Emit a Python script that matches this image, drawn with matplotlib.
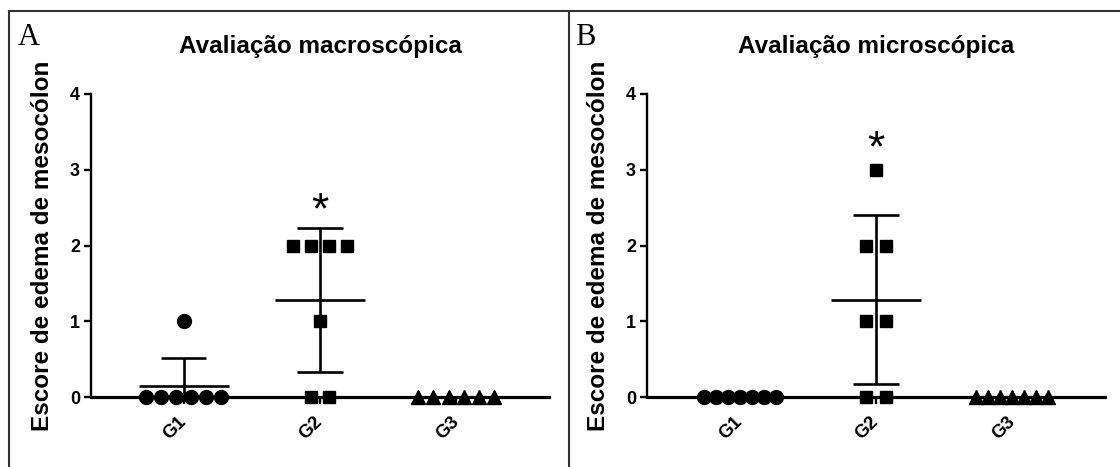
import numpy as np
import matplotlib
matplotlib.use("Agg")
import matplotlib.pyplot as plt
from matplotlib.lines import Line2D
from matplotlib.transforms import ScaledTranslation

# Scores per animal, by group
groups = ["G1", "G2", "G3"]
macro_g1 = [1, 0, 0, 0, 0, 0, 0]
macro_g2 = [2, 2, 2, 2, 1, 0, 0]
macro_g3 = [0, 0, 0, 0, 0, 0]
micro_g1 = [0, 0, 0, 0, 0, 0, 0]
micro_g2 = [3, 2, 2, 1, 1, 0, 0]
micro_g3 = [0, 0, 0, 0, 0, 0, 0]

panel_titles = ["Avaliação macroscópica", "Avaliação microscópica"]
panel_letters = ["A", "B"]
y_label = "Escore de edema de mesocólon"
y_ticks = [0, 1, 2, 3, 4]
signif_group = "G2"

SANS = ["Liberation Sans", "DejaVu Sans"]
SERIF = ["Liberation Serif", "DejaVu Serif"]

W, H = 1120, 467
fig = plt.figure(figsize=(W / 100, H / 100), dpi=100)
fig.patch.set_facecolor("white")


def spread(values, step):
    """Horizontal offsets so tied values sit side by side, centred."""
    vals = np.asarray(values, float)
    offs = np.zeros_like(vals)
    for v in np.unique(vals):
        idx = np.where(vals == v)[0]
        offs[idx] = (np.arange(len(idx)) - (len(idx) - 1) / 2) * step
    return offs


def draw_panel(ax, data, steps, title, star_y):
    markers = [("o", 10), ("s", 9), ("^", 10)]
    for i, (vals, step, (mk, ms)) in enumerate(zip(data, steps, markers)):
        xc = i + 1
        vals = np.asarray(vals, float)
        mean = vals.mean()
        sd = vals.std(ddof=1)
        # mean line, SD whisker and caps
        ax.hlines(mean, xc - 0.33, xc + 0.33, color="black", lw=1.9, zorder=2)
        ax.vlines(xc, mean - sd, mean + sd, color="black", lw=1.9, zorder=2)
        ax.hlines([mean - sd, mean + sd], xc - 0.167, xc + 0.167,
                  color="black", lw=1.9, zorder=2)
        ax.plot(xc + spread(vals, step), vals, linestyle="none", marker=mk,
                ms=ms, color="black", mec="black", clip_on=False, zorder=4)

    ax.set_xlim(0.32, 3.68)
    ax.set_ylim(0, 4)
    ax.set_yticks(y_ticks)
    ax.set_xticks([1, 2, 3])
    ax.set_xticklabels(groups)
    for s in ("top", "right"):
        ax.spines[s].set_visible(False)
    ax.spines["left"].set_linewidth(1.7)
    ax.spines["bottom"].set_linewidth(2.3)
    ax.spines["bottom"].set_zorder(3)
    ax.tick_params(axis="y", length=5, width=1.7, pad=3, labelsize=13)
    ax.tick_params(axis="x", length=5, width=1.7, pad=7, labelsize=13.5)
    for lab in ax.get_yticklabels():
        lab.set_fontweight("bold")
        lab.set_family(SANS)
    off = ScaledTranslation(6 / 100, 0, fig.dpi_scale_trans)
    for lab in ax.get_xticklabels():
        lab.set_fontweight("bold")
        lab.set_family(SANS)
        lab.set_rotation(45)
        lab.set_ha("right")
        lab.set_va("top")
        lab.set_transform(lab.get_transform() + off)

    ax.set_ylabel(y_label, fontsize=17.5, fontweight="bold", family=SANS)
    ax.yaxis.set_label_coords(-0.081, 0.5)

    ax.text(groups.index(signif_group) + 1, star_y, "*", ha="center",
            va="center", fontsize=32, family=SANS, clip_on=False)

    bb = ax.get_position()
    fig.text((bb.x0 + bb.x1) / 2, 1 - 53.3 / H, title, ha="center",
             va="baseline", fontsize=17.5, fontweight="bold", family=SANS)


ax_a = fig.add_axes([91 / W, 1 - 397 / H, 458 / W, (397 - 94) / H])
ax_b = fig.add_axes([647 / W, 1 - 397 / H, 458 / W, (397 - 94) / H])

draw_panel(ax_a, [macro_g1, macro_g2, macro_g3], [0.11, 0.132, 0.112],
           panel_titles[0], 2.45)
draw_panel(ax_b, [micro_g1, micro_g2, micro_g3], [0.088, 0.14, 0.088],
           panel_titles[1], 3.26)

# panel letters
fig.text(18 / W, 1 - 45 / H, panel_letters[0], ha="left", va="baseline",
         fontsize=22, family=SERIF)
fig.text(575 / W, 1 - 45 / H, panel_letters[1], ha="left", va="baseline",
         fontsize=22, family=SERIF)

# frame lines around the two panels
frame = dict(color="#333333", lw=1.5, transform=fig.transFigure)
fig.add_artist(Line2D([9 / W, 1], [1 - 11 / H, 1 - 11 / H], **frame))
fig.add_artist(Line2D([9 / W, 9 / W], [0, 1 - 11 / H], **frame))
fig.add_artist(Line2D([569 / W, 569 / W], [0, 1 - 11 / H], **frame))

fig.savefig("out.png", dpi=100, facecolor="white")
